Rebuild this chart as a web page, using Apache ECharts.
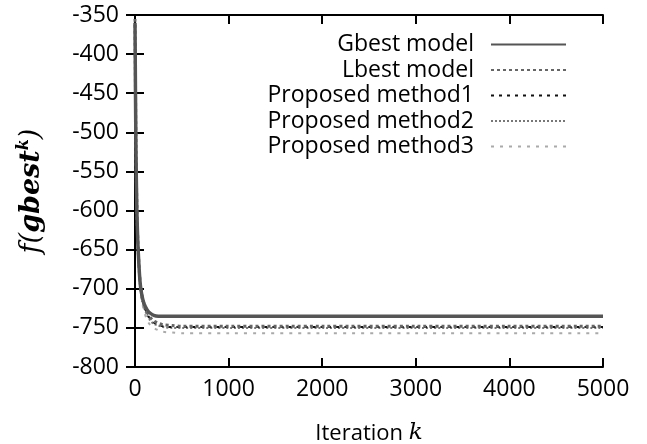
<!DOCTYPE html>
<html><head><meta charset="utf-8">
<script src="https://cdn.jsdelivr.net/npm/echarts@6/dist/echarts.min.js"></script>
<style>html,body{margin:0;padding:0;background:#fff}#c{width:647px;height:444px}</style>
</head><body><div id="c"></div>
<script>
const iterations = [0, 10, 20, 30, 40, 50, 60, 80, 100, 130, 160, 200, 250, 300, 400, 500, 1000, 2000, 3000, 4000, 5000];
const gbest   = [-360, -520, -600, -640, -665, -685, -698, -712, -720, -727, -731, -734, -735, -735, -735, -735, -735, -735, -735, -735, -735];
const lbest   = [-355, -515, -595, -638, -664, -684, -697, -712, -721, -730, -736, -741, -744, -746, -747, -748, -748, -748, -748, -748, -748];
const method1 = [-358, -518, -598, -640, -666, -686, -699, -714, -723, -732, -738, -743, -746, -748, -749, -749, -749, -749, -749, -749, -749];
const method2 = [-362, -522, -602, -643, -668, -688, -701, -716, -725, -734, -740, -745, -747, -749, -750, -750, -750, -750, -750, -750, -750];
const method3 = [-365, -525, -605, -646, -672, -692, -705, -720, -730, -740, -746, -750, -753, -755, -756, -757, -757, -757, -757, -757, -757];
const seriesNames = ['Gbest model', 'Lbest model', 'Proposed method1', 'Proposed method2', 'Proposed method3'];

const pair = arr => iterations.map((x, i) => [x, arr[i]]);
const styles = [
  {color: '#555', width: 3.5, type: 'solid'},
  {color: '#666', width: 3, type: [3, 3]},
  {color: '#111', width: 2, type: [3, 5]},
  {color: '#777', width: 2, type: [2, 2]},
  {color: '#aaa', width: 2, type: [3, 6]}
];
const datas = [gbest, lbest, method1, method2, method3];
const font = '"Open Sans", "DejaVu Sans", sans-serif';
const chart = echarts.init(document.getElementById('c'), null, {renderer: 'canvas'});
const axisLine = {show: true, lineStyle: {color: '#000', width: 2}};
const tick = {show: true, inside: true, length: 9, lineStyle: {color: '#000', width: 2}};
chart.setOption({
  animation: false,
  backgroundColor: '#fff',
  grid: {left: 135, right: 44, top: 15, bottom: 77, containLabel: false, outerBoundsMode: 'none'},
  legend: {
    orient: 'vertical', right: 75, top: 28, align: 'right', itemGap: 2.5,
    itemWidth: 75, itemHeight: 23,
    itemStyle: {opacity: 0},
    textStyle: {fontFamily: font, fontSize: 23, color: '#000', padding: [0, 12, 0, 0]},
    data: seriesNames
  },
  xAxis: [{
    type: 'value', min: 0, max: 5000, interval: 1000,
    axisLine: axisLine, axisTick: tick,
    axisLabel: {fontFamily: font, fontSize: 23, color: '#000', margin: 11, formatter: v => String(v)},
    splitLine: {show: false},
    name: '{a|Iteration }{b|k}', nameLocation: 'middle', nameGap: 55,
    nameTextStyle: {rich: {a: {fontFamily: font, fontSize: 22, color: '#000'}, b: {fontFamily: 'DejaVu Serif', fontStyle: 'italic', fontSize: 23, color: '#000'}}}
  }, {
    type: 'value', min: 0, max: 5000, interval: 1000, position: 'top',
    axisLine: axisLine, axisTick: tick,
    axisLabel: {show: false}, splitLine: {show: false}
  }],
  yAxis: [{
    type: 'value', min: -800, max: -350, interval: 50,
    axisLine: axisLine, axisTick: tick,
    axisLabel: {fontFamily: font, fontSize: 23, color: '#000', margin: 16},
    splitLine: {show: false},
    name: '{a|f(}{b|gbest}{c|k}{a|)}', nameLocation: 'middle', nameGap: 88, nameRotate: 90,
    nameTextStyle: {rich: {
      a: {fontFamily: 'DejaVu Serif', fontStyle: 'italic', fontSize: 27, color: '#000'},
      b: {fontFamily: 'DejaVu Serif', fontStyle: 'italic', fontWeight: 'bold', fontSize: 27, color: '#000'},
      c: {fontFamily: 'DejaVu Serif', fontStyle: 'italic', fontWeight: 'bold', fontSize: 16, color: '#000', verticalAlign: 'top', padding: [0, 0, 15, 0]}
    }}
  }, {
    type: 'value', min: -800, max: -350, interval: 50, position: 'right',
    axisLine: axisLine, axisTick: tick,
    axisLabel: {show: false}, splitLine: {show: false}
  }],
  series: seriesNames.map((n, i) => ({
    name: n, type: 'line', data: pair(datas[i]), showSymbol: false, symbol: 'none',
    smooth: 0.3, lineStyle: styles[i], itemStyle: {color: styles[i].color}, z: 5 - i
  }))
});
</script></body></html>
